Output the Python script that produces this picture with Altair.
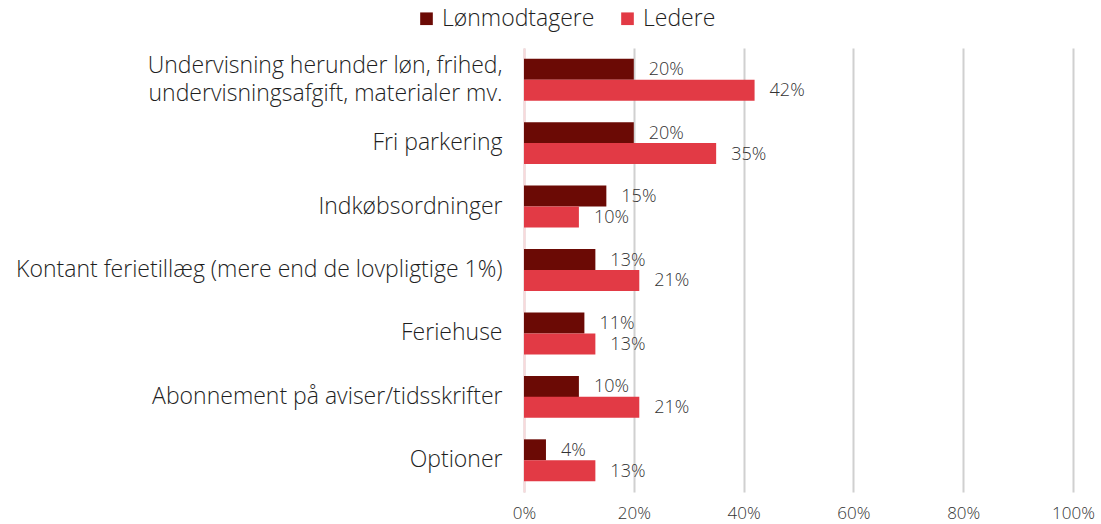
import altair as alt
import pandas as pd

categories = [
    "Undervisning herunder løn, frihed,\nundervisningsafgift, materialer mv.",
    "Fri parkering",
    "Indkøbsordninger",
    "Kontant ferietillæg (mere end de lovpligtige 1%)",
    "Feriehuse",
    "Abonnement på aviser/tidsskrifter",
    "Optioner",
]
series = ["Lønmodtagere", "Ledere"]
loenmodtagere = [20, 20, 15, 13, 11, 10, 4]
ledere = [42, 35, 10, 21, 13, 21, 13]
colors = ["#6B0A05", "#E23A45"]
x_ticks = [0, 20, 40, 60, 80, 100]

rows = []
for c, a, b in zip(categories, loenmodtagere, ledere):
    rows.append({"cat": c, "serie": series[0], "val": a / 100})
    rows.append({"cat": c, "serie": series[1], "val": b / 100})
df = pd.DataFrame(rows)

FONT = "Open Sans"
W = 300

y_enc = alt.Y(
    "cat:N",
    sort=categories,
    scale=alt.Scale(paddingInner=0.34, paddingOuter=0.17),
    axis=alt.Axis(
        title=None,
        labelExpr="split(datum.label, '\\n')",
        labelOffset={"condition": {"test": "indexof(datum.value, '\\n') >= 0", "value": -14}, "value": 0},
        labelFontSize=23,
        labelFont=FONT,
        labelFontWeight=W,
        labelColor="#1E1E1E",
        labelPadding=22,
        ticks=False,
        domain=True,
        domainColor="#F9D9DB",
        domainWidth=2,
        labelLineHeight=28,
        labelLimit=600,
    ),
)
x_enc = alt.X(
    "val:Q",
    scale=alt.Scale(domain=[0, 1], nice=False),
    axis=alt.Axis(
        title=None,
        values=[v / 100 for v in x_ticks],
        format=".0%",
        labelFontSize=17,
        labelFont=FONT,
        labelFontWeight=W,
        labelColor="#333333",
        labelPadding=13,
        labelFlush=False,
        ticks=False,
        domain=False,
        grid=True,
        gridColor="#D0D0D0",
        gridWidth=2,
    ),
)
color_enc = alt.Color(
    "serie:N",
    sort=series,
    scale=alt.Scale(domain=series, range=colors),
    legend=alt.Legend(
        title=None,
        orient="none",
        direction="horizontal",
        legendX=-109,
        legendY=-41,
        symbolType="square",
        symbolSize=160,
        symbolStrokeWidth=0,
        labelFontSize=23,
        labelFont=FONT,
        labelFontWeight=W,
        labelColor="#1E1E1E",
        columnPadding=21,
        labelOffset=4,
    ),
)
yoff = alt.YOffset("serie:N", sort=series, scale=alt.Scale(paddingInner=0.0))

bars = alt.Chart(df).mark_bar(size=21).encode(
    y=y_enc, x=x_enc, color=color_enc, yOffset=yoff
)
text = alt.Chart(df).mark_text(
    align="left", baseline="middle", dx=15, dy=1, fontSize=18, font=FONT,
    fontWeight=W, color="#333333"
).encode(
    y=alt.Y("cat:N", sort=categories),
    x=alt.X("val:Q"),
    yOffset=alt.YOffset("serie:N", sort=series),
    text=alt.Text("val:Q", format=".0%"),
)

chart = (
    alt.layer(bars, text)
    .properties(
        width=549,
        height=444,
        autosize=alt.AutoSizeParams(type="none"),
        padding={"left": 524, "top": 48, "right": 28, "bottom": 32},
    )
    .configure_view(stroke=None)
)
chart.save("out.html", embed_options={"renderer": "svg", "actions": False})
